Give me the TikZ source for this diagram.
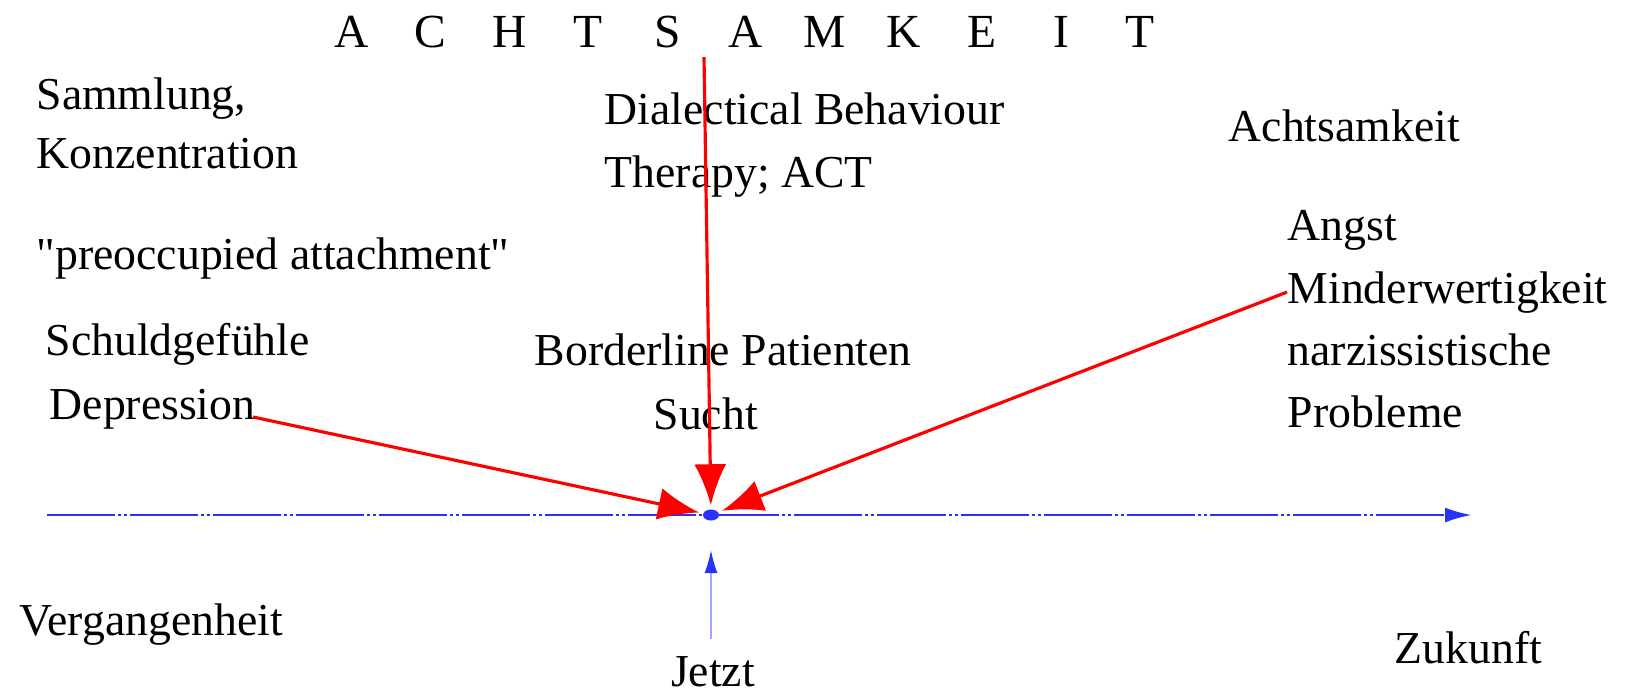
\documentclass[tikz,border=0pt]{standalone}
\usepackage{fontspec}
\setmainfont{Liberation Serif}[Ligatures=TeXOff]
\usepackage{tikz}
\usetikzlibrary{arrows.meta,positioning,shapes.geometric}

\definecolor{axisblue}{RGB}{40,50,250}
\definecolor{thinblue}{RGB}{160,165,255}

\begin{document}
\begin{tikzpicture}[
    x=0.01cm, y=-0.01cm,
    lbl/.style={anchor=base west, inner sep=0pt, font=\fontsize{13}{16}\selectfont},
    letter/.style={anchor=base, inner sep=0pt, font=\fontsize{13.5}{16}\selectfont},
    focus/.style={-{Latex[length=4.1mm, width=3.2mm]}, red, line width=0.9pt, shorten >=1pt},
    timeline/.style={-{Latex[length=2.7mm, width=1.5mm]}, axisblue, line width=0.8pt,
      dash pattern=on 0.68cm off 0.03cm on 0.03cm off 0.03cm on 0.03cm off 0.03cm},
    dot/.style={ellipse, fill=axisblue, minimum width=1.6mm, minimum height=1.1mm, inner sep=0pt}
  ]
    \useasboundingbox (0,0) rectangle (1625,696);

    % Title, spaced letters
    \foreach \l [count=\i from 0] in {A,C,H,T,S,A,M,K,E,I,T}
      \node[letter] (t\i) at ({352+\i*78.8}, 47) {\l};

    % Left column
    \node[lbl] (samm)  at (36, 109) {Sammlung,};
    \node[lbl] (konz)  at (36, 168) {Konzentration};
    \node[lbl] (preoc) at (36, 269) {"preoccupied attachment"};
    \node[lbl] (schuld) at (45, 355) {Schuldgefühle};
    \node[lbl] (dep)   at (49, 419) {Depression};

    % Middle column
    \node[lbl] (dbt)   at (604, 124) {Dialectical Behaviour};
    \node[lbl] (act)   at (604, 187) {Therapy; ACT};
    \node[lbl] (bord)  at (534, 365) {Borderline Patienten};
    \node[lbl] (sucht) at (653, 429) {Sucht};

    % Right column
    \node[lbl] (achts)  at (1228, 141) {Achtsamkeit};
    \node[lbl] (angst)  at (1287, 240) {Angst};
    \node[lbl] (minder) at (1287, 303) {Minderwertigkeit};
    \node[lbl] (narz)   at (1287, 365) {narzissistische};
    \node[lbl] (probl)  at (1287, 427) {Probleme};

    % Time axis
    \coordinate (past) at (47, 515);
    \coordinate (future) at (1472, 515);
    \node[dot] (now) at (711, 515) {};
    \draw[timeline] (past) -- (future);

    \node[lbl] (verg) at (19, 635) {Vergangenheit};
    \node[lbl] (zuk)  at (1394, 663) {Zukunft};
    \node[anchor=north, inner sep=0pt, font=\fontsize{13}{16}\selectfont] (jetzt) at (713, 656) {Jetzt};

    % Arrows into the present
    \coordinate (top) at (704, 57);
    \draw[focus] (top) -- (now);
    \draw[focus] (dep.base east) ++(-3,-2) -- (now);
    \draw[focus] (minder.west) -- (now);
    \draw[thinblue, line width=0.5pt, -{Latex[length=2.3mm, width=1.3mm, color=axisblue]}]
      (711, 639) -- (711, 550);

\end{tikzpicture}
\end{document}
